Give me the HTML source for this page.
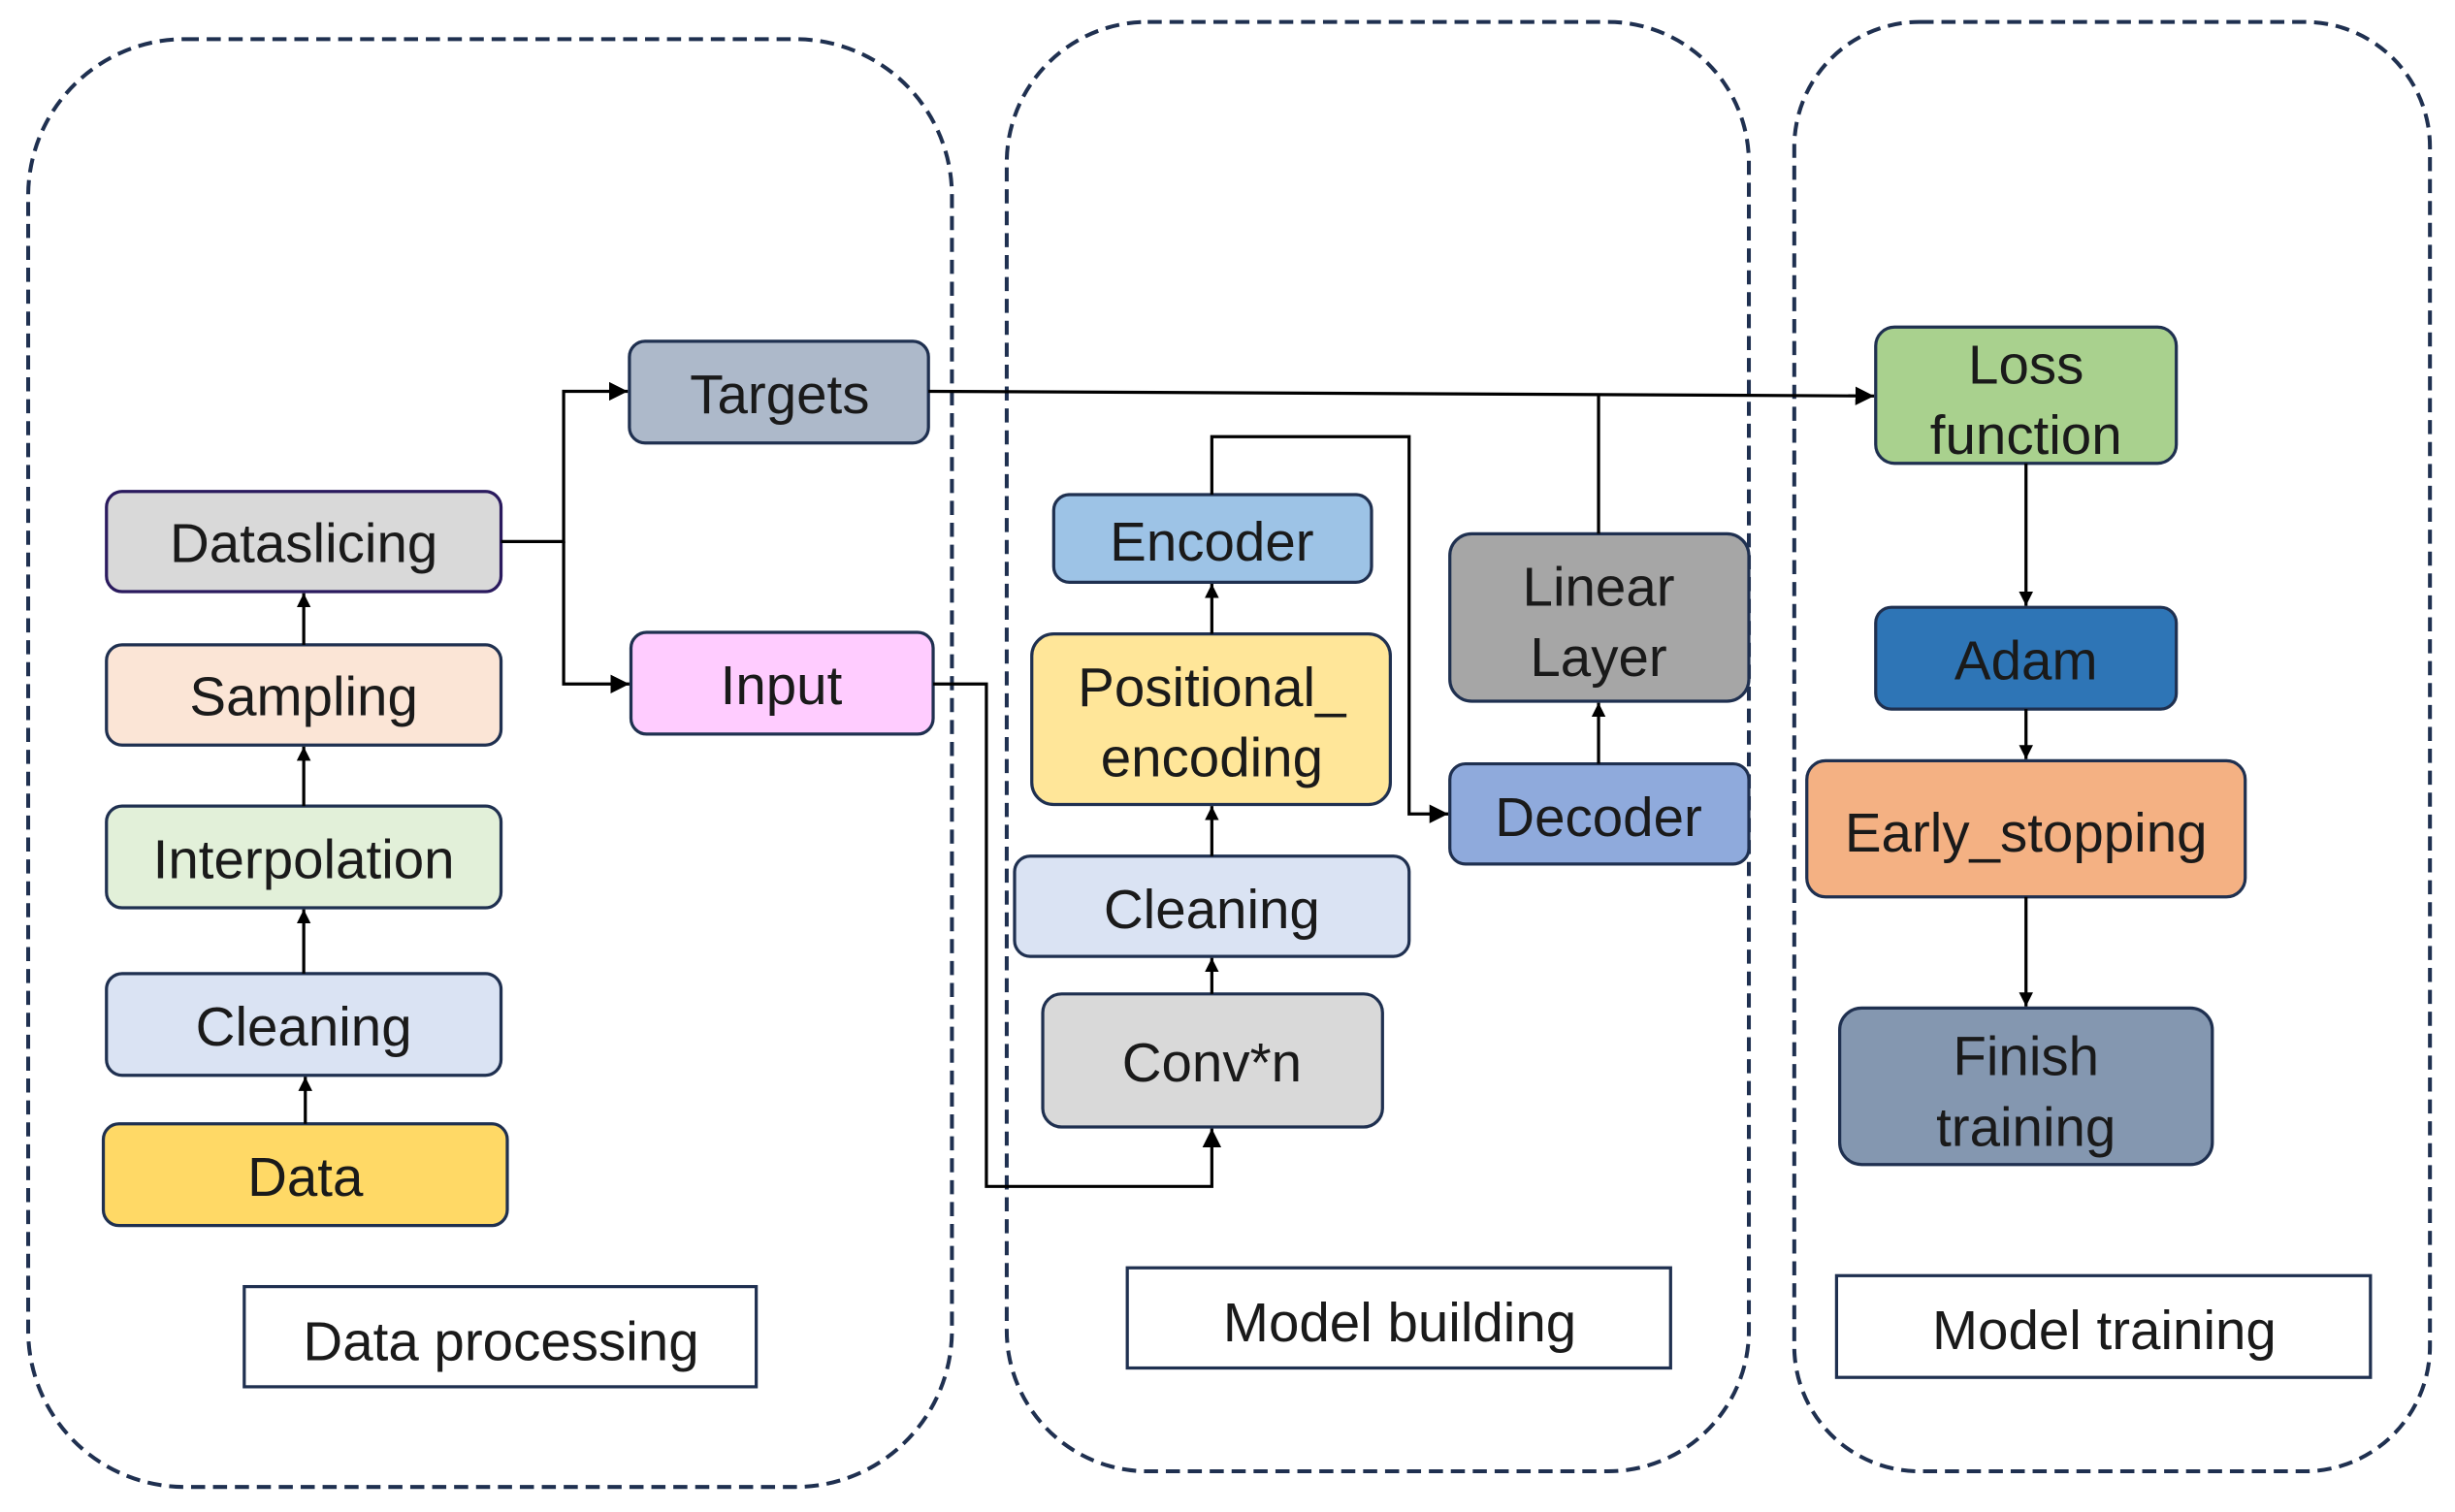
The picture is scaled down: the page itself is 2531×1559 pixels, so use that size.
<!DOCTYPE html>
<html><head><meta charset="utf-8"><style>html,body{margin:0;padding:0;background:#fff}svg{display:block}</style></head>
<body>
<svg width="2531" height="1559" viewBox="0 0 1568 966" preserveAspectRatio="none" xmlns="http://www.w3.org/2000/svg" font-family="Liberation Sans, sans-serif">
<defs><marker id="a" viewBox="0 0 10 10" refX="10" refY="5" markerWidth="9" markerHeight="9" markerUnits="userSpaceOnUse" orient="auto"><path d="M0,0L10,5L0,10z" fill="#000"/></marker>
<marker id="b" viewBox="0 0 10 10" refX="10" refY="5" markerWidth="12" markerHeight="12" markerUnits="userSpaceOnUse" orient="auto"><path d="M0,0L10,5L0,10z" fill="#000"/></marker></defs>
<g fill="none" stroke="#1f3050" stroke-width="2.5" stroke-dasharray="9,5">
<rect x="18" y="25" width="590" height="925" rx="100"/>
<rect x="643" y="14" width="474" height="926" rx="90"/>
<rect x="1146" y="14" width="406" height="926" rx="80"/>
</g>
<g stroke="#1f3050" stroke-width="2">
<rect x="68" y="314" width="252" height="64" rx="10" fill="#d9d9d9" stroke="#2a1a5e"/>
<rect x="68" y="412" width="252" height="64" rx="10" fill="#fbe5d6"/>
<rect x="68" y="515" width="252" height="65" rx="10" fill="#e2f0d9"/>
<rect x="68" y="622" width="252" height="65" rx="10" fill="#dae3f3"/>
<rect x="66" y="718" width="258" height="65" rx="10" fill="#ffd966"/>
<rect x="402" y="218" width="191" height="65" rx="10" fill="#adb9ca"/>
<rect x="403" y="404" width="193" height="65" rx="10" fill="#ffccff"/>
<rect x="673" y="316" width="203" height="56" rx="10" fill="#9dc3e6"/>
<rect x="659" y="405" width="229" height="109" rx="14" fill="#ffe699"/>
<rect x="648" y="547" width="252" height="64" rx="10" fill="#dae3f3"/>
<rect x="666" y="635" width="217" height="85" rx="12" fill="#d9d9d9"/>
<rect x="926" y="341" width="191" height="107" rx="14" fill="#a6a6a6"/>
<rect x="926" y="488" width="191" height="64" rx="10" fill="#8faadc"/>
<rect x="1198" y="209" width="192" height="87" rx="12" fill="#a9d18e"/>
<rect x="1198" y="388" width="192" height="65" rx="10" fill="#2e75b6"/>
<rect x="1154" y="486" width="280" height="87" rx="12" fill="#f4b183"/>
<rect x="1175" y="644" width="238" height="100" rx="14" fill="#8497b0"/>
<rect x="156" y="822" width="327" height="64" fill="#fff"/>
<rect x="720" y="810" width="347" height="64" fill="#fff"/>
<rect x="1173" y="815" width="341" height="65" fill="#fff"/>
</g>
<g fill="none" stroke="#000" stroke-width="2">
<path d="M320,346H360V250H401" marker-end="url(#b)"/>
<path d="M360,346V437H402" marker-end="url(#b)"/>
<path d="M593,250L1197,253" marker-end="url(#b)"/>
<path d="M1021,341V253"/>
<path d="M596,437H630V758H774V721" marker-end="url(#b)"/>
<path d="M774,635V612" marker-end="url(#a)"/>
<path d="M774,547V515" marker-end="url(#a)"/>
<path d="M774,405V373" marker-end="url(#a)"/>
<path d="M774,316V279H900V520H925" marker-end="url(#b)"/>
<path d="M1021,488V449" marker-end="url(#a)"/>
<path d="M195,718V688" marker-end="url(#a)"/>
<path d="M194,622V581" marker-end="url(#a)"/>
<path d="M194,515V477" marker-end="url(#a)"/>
<path d="M194,412V379" marker-end="url(#a)"/>
<path d="M1294,296V387" marker-end="url(#a)"/>
<path d="M1294,453V485" marker-end="url(#a)"/>
<path d="M1294,573V643" marker-end="url(#a)"/>
</g>
<g font-size="35" fill="#1a1a1a" text-anchor="middle">
<text x="194" y="359">Dataslicing</text>
<text x="194" y="457">Sampling</text>
<text x="194" y="561">Interpolation</text>
<text x="194" y="668">Cleaning</text>
<text x="195" y="764">Data</text>
<text x="498" y="264">Targets</text>
<text x="499" y="450">Input</text>
<text x="774" y="358">Encoder</text>
<text x="774" y="451">Positional_</text>
<text x="774" y="496">encoding</text>
<text x="774" y="593">Cleaning</text>
<text x="774" y="691">Conv*n</text>
<text x="1021" y="387">Linear</text>
<text x="1021" y="432">Layer</text>
<text x="1021" y="534">Decoder</text>
<text x="1294" y="245">Loss</text>
<text x="1294" y="290">function</text>
<text x="1294" y="434">Adam</text>
<text x="1294" y="544">Early_stopping</text>
<text x="1294" y="687">Finish</text>
<text x="1294" y="732">training</text>
<text x="320" y="869">Data processing</text>
<text x="894" y="857">Model building</text>
<text x="1344" y="862">Model training</text>
</g>
</svg>
</body></html>
